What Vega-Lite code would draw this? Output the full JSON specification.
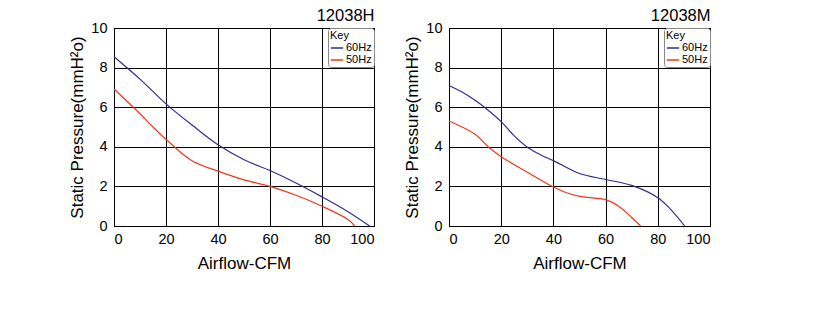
{
  "$schema": "https://vega.github.io/schema/vega-lite/v6.json",
  "padding": {"left": 68, "top": 7, "right": 5, "bottom": 5},
  "background": "white",
  "spacing": 28,
  "config": {
    "font": "Liberation Sans",
    "view": {"stroke": "black", "strokeWidth": 1},
    "axis": {
      "domainColor": "black", "gridColor": "black", "gridOpacity": 1, "gridWidth": 1,
      "ticks": false, "labelColor": "black", "titleColor": "black",
      "labelFontSize": 14.5, "titleFontSize": 17, "titleFontWeight": "normal", "labelFont": "Liberation Sans", "titleFont": "Liberation Sans"
    },
    "title": {"fontSize": 16.5, "fontWeight": "normal", "anchor": "end", "color": "black", "offset": 4, "dy": 8, "font": "Liberation Sans"},
    "legend": {
      "orient": "top-right", "offset": 0, "fillColor": "white", "strokeColor": "#888888", "cornerRadius": 3,
      "padding": 2, "symbolType": "stroke", "symbolSize": 150, "symbolStrokeWidth": 1.5,
      "labelFontSize": 11, "titleFontSize": 11, "titleFontWeight": "normal", "rowPadding": 0, "titlePadding": 0,
      "labelColor": "black", "titleColor": "black", "labelOffset": 2
    }
  },
  "datasets": {
    "curves": [
      {"model": "12038H", "freq": "60Hz", "cfm": 0, "p": 8.55},
      {"model": "12038H", "freq": "60Hz", "cfm": 10, "p": 7.42},
      {"model": "12038H", "freq": "60Hz", "cfm": 20, "p": 6.17},
      {"model": "12038H", "freq": "60Hz", "cfm": 30, "p": 5.1},
      {"model": "12038H", "freq": "60Hz", "cfm": 40, "p": 4.1},
      {"model": "12038H", "freq": "60Hz", "cfm": 50, "p": 3.35},
      {"model": "12038H", "freq": "60Hz", "cfm": 60, "p": 2.8},
      {"model": "12038H", "freq": "60Hz", "cfm": 70, "p": 2.17},
      {"model": "12038H", "freq": "60Hz", "cfm": 80, "p": 1.47},
      {"model": "12038H", "freq": "60Hz", "cfm": 90, "p": 0.72},
      {"model": "12038H", "freq": "60Hz", "cfm": 98.3, "p": 0},
      {"model": "12038H", "freq": "50Hz", "cfm": 0, "p": 6.92},
      {"model": "12038H", "freq": "50Hz", "cfm": 10, "p": 5.67},
      {"model": "12038H", "freq": "50Hz", "cfm": 15, "p": 5.0},
      {"model": "12038H", "freq": "50Hz", "cfm": 20, "p": 4.38},
      {"model": "12038H", "freq": "50Hz", "cfm": 30, "p": 3.3},
      {"model": "12038H", "freq": "50Hz", "cfm": 40, "p": 2.77},
      {"model": "12038H", "freq": "50Hz", "cfm": 50, "p": 2.33},
      {"model": "12038H", "freq": "50Hz", "cfm": 60, "p": 2.0},
      {"model": "12038H", "freq": "50Hz", "cfm": 70, "p": 1.55},
      {"model": "12038H", "freq": "50Hz", "cfm": 80, "p": 1.0},
      {"model": "12038H", "freq": "50Hz", "cfm": 90, "p": 0.33},
      {"model": "12038H", "freq": "50Hz", "cfm": 92.6, "p": 0},
      {"model": "12038M", "freq": "60Hz", "cfm": 0, "p": 7.1},
      {"model": "12038M", "freq": "60Hz", "cfm": 5, "p": 6.77},
      {"model": "12038M", "freq": "60Hz", "cfm": 10, "p": 6.35},
      {"model": "12038M", "freq": "60Hz", "cfm": 15, "p": 5.85},
      {"model": "12038M", "freq": "60Hz", "cfm": 20, "p": 5.27},
      {"model": "12038M", "freq": "60Hz", "cfm": 25, "p": 4.55},
      {"model": "12038M", "freq": "60Hz", "cfm": 30, "p": 3.98},
      {"model": "12038M", "freq": "60Hz", "cfm": 35, "p": 3.6},
      {"model": "12038M", "freq": "60Hz", "cfm": 40, "p": 3.3},
      {"model": "12038M", "freq": "60Hz", "cfm": 50, "p": 2.65},
      {"model": "12038M", "freq": "60Hz", "cfm": 60, "p": 2.35},
      {"model": "12038M", "freq": "60Hz", "cfm": 70, "p": 2.05},
      {"model": "12038M", "freq": "60Hz", "cfm": 80, "p": 1.43},
      {"model": "12038M", "freq": "60Hz", "cfm": 85, "p": 0.83},
      {"model": "12038M", "freq": "60Hz", "cfm": 90.3, "p": 0},
      {"model": "12038M", "freq": "50Hz", "cfm": 0, "p": 5.3},
      {"model": "12038M", "freq": "50Hz", "cfm": 10, "p": 4.63},
      {"model": "12038M", "freq": "50Hz", "cfm": 15, "p": 4.0},
      {"model": "12038M", "freq": "50Hz", "cfm": 20, "p": 3.5},
      {"model": "12038M", "freq": "50Hz", "cfm": 30, "p": 2.72},
      {"model": "12038M", "freq": "50Hz", "cfm": 40, "p": 1.97},
      {"model": "12038M", "freq": "50Hz", "cfm": 45, "p": 1.68},
      {"model": "12038M", "freq": "50Hz", "cfm": 50, "p": 1.5},
      {"model": "12038M", "freq": "50Hz", "cfm": 55, "p": 1.42},
      {"model": "12038M", "freq": "50Hz", "cfm": 60, "p": 1.33},
      {"model": "12038M", "freq": "50Hz", "cfm": 65, "p": 1.0},
      {"model": "12038M", "freq": "50Hz", "cfm": 70, "p": 0.43},
      {"model": "12038M", "freq": "50Hz", "cfm": 73.4, "p": 0}
    ]
  },
  "resolve": {"scale": {"color": "independent"}, "legend": {"color": "independent"}},
  "hconcat": [
    {
      "title": "12038H",
      "width": 260, "height": 198,
      "data": {"name": "curves"},
      "transform": [{"filter": "datum.model === '12038H'"}],
      "mark": {"type": "line", "interpolate": "catmull-rom", "strokeWidth": 1.2},
      "encoding": {
        "x": {"field": "cfm", "type": "quantitative", "scale": {"domain": [0, 100], "nice": false}, "axis": {"values": [0, 20, 40, 60, 80, 100], "title": "Airflow-CFM", "labelPadding": 6, "titlePadding": 10}},
        "y": {"field": "p", "type": "quantitative", "scale": {"domain": [0, 10], "nice": false}, "axis": {"values": [0, 2, 4, 6, 8, 10], "title": "Static Pressure(mmH²o)", "labelPadding": 7, "titlePadding": 4}},
        "color": {"field": "freq", "type": "nominal", "sort": ["60Hz", "50Hz"], "scale": {"domain": ["60Hz", "50Hz"], "range": ["#2e2e8f", "#ec3a1c"]}, "legend": {"title": "Key"}}
      }
    },
    {
      "title": "12038M",
      "width": 261, "height": 198,
      "data": {"name": "curves"},
      "transform": [{"filter": "datum.model === '12038M'"}],
      "mark": {"type": "line", "interpolate": "catmull-rom", "strokeWidth": 1.2},
      "encoding": {
        "x": {"field": "cfm", "type": "quantitative", "scale": {"domain": [0, 100], "nice": false}, "axis": {"values": [0, 20, 40, 60, 80, 100], "title": "Airflow-CFM", "labelPadding": 6, "titlePadding": 10}},
        "y": {"field": "p", "type": "quantitative", "scale": {"domain": [0, 10], "nice": false}, "axis": {"values": [0, 2, 4, 6, 8, 10], "title": "Static Pressure(mmH²o)", "labelPadding": 7, "titlePadding": 4}},
        "color": {"field": "freq", "type": "nominal", "sort": ["60Hz", "50Hz"], "scale": {"domain": ["60Hz", "50Hz"], "range": ["#2e2e8f", "#ec3a1c"]}, "legend": {"title": "Key"}}
      }
    }
  ]
}
